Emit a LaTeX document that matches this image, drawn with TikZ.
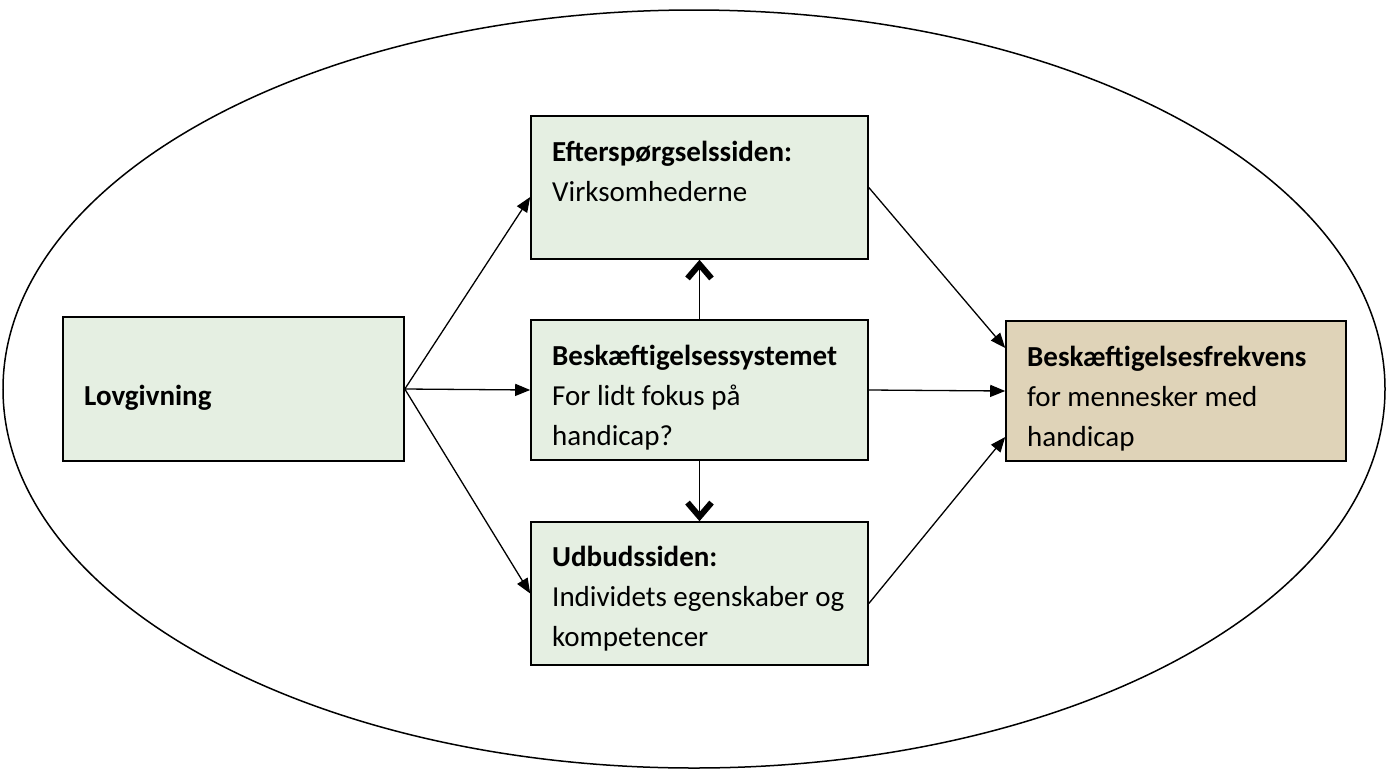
\documentclass[tikz,border=0pt]{standalone}
\usepackage{fontspec}
\setmainfont{Carlito}
\usetikzlibrary{arrows.meta,calc}
\definecolor{boxgreen}{HTML}{E5EFE2}
\definecolor{boxtan}{HTML}{DFD3B8}
\tikzset{
  box/.style={draw=black, line width=1.6pt, rectangle, inner sep=0pt, fill=boxgreen},
  txt/.style={anchor=base west, inner sep=0pt, font=\fontsize{29}{40}\selectfont},
  btxt/.style={txt, font=\fontsize{29}{40}\selectfont\bfseries},
  conn/.style={line width=1.3pt, -{Triangle[length=15pt,width=12pt]}},
  barb/.style={line width=1.3pt, -{Straight Barb[length=14pt,width=24pt,line width=6pt]}}
}
\begin{document}
\begin{tikzpicture}[x=1pt,y=-1pt]
\useasboundingbox (0,0) rectangle (1389,769);
\draw[line width=1.5pt] (694,389) ellipse [x radius=691pt, y radius=379pt];

\node[box, minimum width=341pt, minimum height=144pt] (lov) at (233.5,389) {};
\node[box, minimum width=337pt, minimum height=143pt] (efter) at (699.5,187.5) {};
\node[box, minimum width=337pt, minimum height=140pt] (besk) at (699.5,390) {};
\node[box, minimum width=337pt, minimum height=143pt] (udbud) at (699.5,593.5) {};
\node[box, fill=boxtan, minimum width=340pt, minimum height=140pt] (frek) at (1176,391) {};

\node[btxt] (l1) at (84,405) {Lovgivning};
\node[btxt] (e1) at (552,161.5) {Efterspørgselssiden:};
\node[txt]  (e2) at (552,201.5) {Virksomhederne};
\node[btxt] (b1) at (552,365) {Beskæftigelsessystemet};
\node[txt]  (b2) at (552,405) {For lidt fokus på};
\node[txt]  (b3) at (552,445) {handicap?};
\node[btxt] (u1) at (552,566.5) {Udbudssiden:};
\node[txt]  (u2) at (552,606.5) {Individets egenskaber og};
\node[txt]  (u3) at (552,646.5) {kompetencer};
\node[btxt] (f1) at (1027,366) {Beskæftigelsesfrekvens};
\node[txt]  (f2) at (1027,406) {for mennesker med};
\node[txt]  (f3) at (1027,446) {handicap};

\draw[conn] (lov.east) -- ($(efter.west)+(0,9.5)$);
\draw[conn] (lov.east) -- (besk.west);
\draw[conn] (lov.east) -- (udbud.west);
\draw[conn] (efter.east) -- ($(frek.west)+(0,-43)$);
\draw[conn] (besk.east) -- (frek.west);
\draw[conn] ($(udbud.east)+(0,10)$) -- ($(frek.west)+(0,46)$);
\draw[barb] (besk.north) -- (efter.south);
\draw[barb] (besk.south) -- (udbud.north);
\end{tikzpicture}
\end{document}
